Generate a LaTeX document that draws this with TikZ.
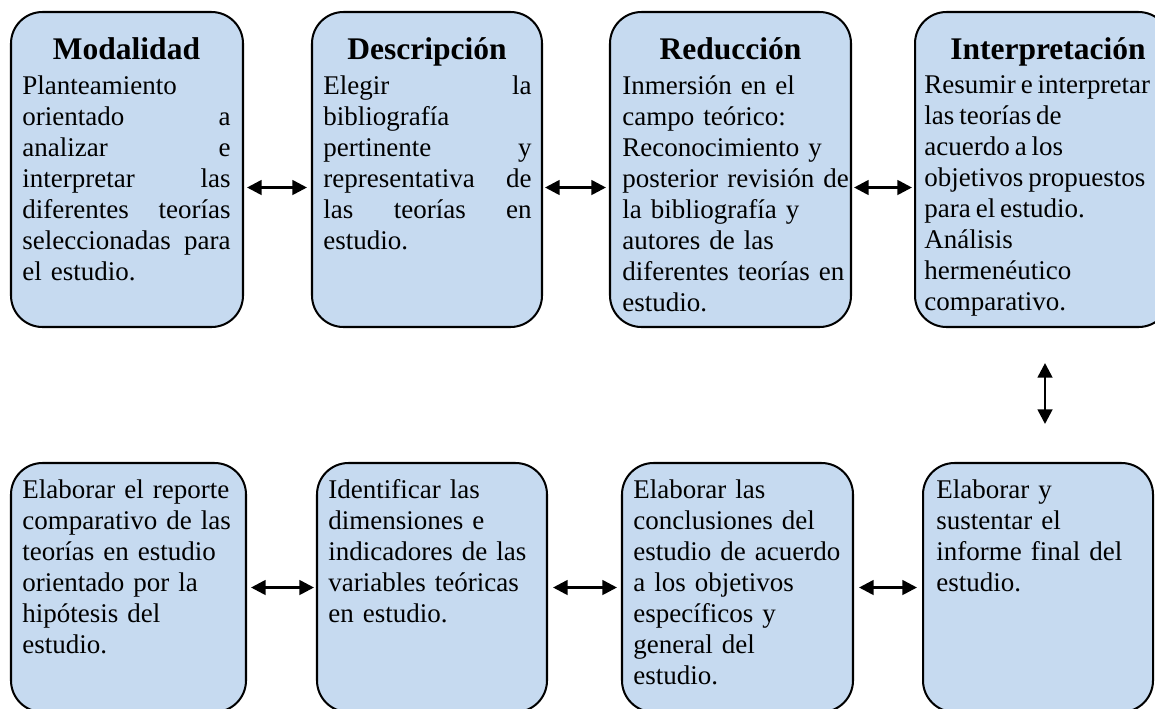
\documentclass[tikz,border=0pt]{standalone}
\usepackage{fontspec}
\setmainfont{Liberation Serif}
\usetikzlibrary{arrows.meta, fit}
\definecolor{boxblue}{RGB}{198,218,240}
\setlength{\parindent}{0pt}

\begin{document}
\begin{tikzpicture}[x=0.4444pt, y=-0.4444pt,
        box/.style={draw, line width=0.9pt, fill=boxblue, rounded corners=14pt, inner sep=0pt},
        head/.style={anchor=base, inner sep=0pt, font=\fontsize{14}{16}\selectfont\bfseries},
        body/.style={anchor=north west, inner sep=0pt, align=left, text width=#1,
            font=\fontsize{12}{13.8}\selectfont},
        body/.default=110pt,
        dbl/.style={{Triangle[length=6.5pt,width=6.5pt]}-{Triangle[length=6.5pt,width=6.5pt]}, line width=1.2pt}]

        \useasboundingbox (0,0) rectangle (1155,708);
        \clip (0,0) rectangle (1155,708);

        % upper row
        \node (mod) [box, fit={(11,12) (243,327)}] {};
        \node (des) [box, fit={(312,12) (542,327)}] {};
        \node (red) [box, fit={(610,12) (851,327)}] {};
        \node (int) [box, fit={(915,12) (1170,327)}] {};

        \node (modh) [head] at (126.5,59) {Modalidad};
        \node (desh) [head] at (427,59) {Descripción};
        \node (redh) [head] at (730.5,59) {Reducción};
        \node (inth) [head] at (1048,59) {Interpretación};

        \node (modt) [body=92.5pt] at (22,75) {Planteamiento\\
            orientado\hfill a\\ analizar\hfill e\\ interpretar\hfill las\\
            diferentes\hfill teorías\\ seleccionadas\hfill para\\ el estudio.};
        \node (dest) [body=92.5pt] at (323,75) {Elegir\hfill la\\ bibliografía\\
            pertinente\hfill y\\ representativa\hfill de\\ las\hfill teorías\hfill en\\ estudio.};
        \node (redt) [body] at (622,75) {Inmersión en el\\ campo teórico:\\
            Reconocimiento y\\ posterior revisión de\\ la bibliografía y\\
            autores de las\\ diferentes teorías en\\ estudio.};
        \node (intt) [body] at (924,75) {\spaceskip=0.18em Resumir e interpretar\\ las teorías de\\
            acuerdo a los\\ objetivos propuestos\\ para el estudio.\\ Análisis\\
            hermenéutico\\ comparativo.};

        % lower row
        \node (rep) [box, fit={(11,463) (246,712)}] {};
        \node (idn) [box, fit={(317,463) (547,712)}] {};
        \node (con) [box, fit={(622,463) (853,712)}] {};
        \node (inf) [box, fit={(923,463) (1153,712)}] {};

        \node (rept) [body] at (22,479) {Elaborar el reporte\\ comparativo de las\\
            teorías en estudio\\ orientado por la\\ hipótesis del\\ estudio.};
        \node (idnt) [body] at (328,479) {Identificar las\\ dimensiones e\\
            indicadores de las\\ variables teóricas\\ en estudio.};
        \node (cont) [body] at (633,479) {Elaborar las\\ conclusiones del\\
            estudio de acuerdo\\ a los objetivos\\ específicos y\\ general del\\ estudio.};
        \node (inft) [body] at (936,479) {Elaborar y\\ sustentar el\\
            informe final del\\ estudio.};

        \draw[dbl] ([shift={(3,18)}]mod.east) -- ([shift={(-4,18)}]des.west);
        \draw[dbl] ([shift={(2,18)}]des.east) -- ([shift={(-3,18)}]red.west);
        \draw[dbl] ([shift={(2,18)}]red.east) -- ([shift={(-2,18)}]int.west);
        \draw[dbl] ([shift={(2.5,35)}]int.south) -- ([shift={(7,-38)}]inf.north);
        \draw[dbl] ([shift={(4,0)}]rep.east) -- ([shift={(-2,0)}]idn.west);
        \draw[dbl] ([shift={(5,0)}]idn.east) -- ([shift={(-4,0)}]con.west);
        \draw[dbl] ([shift={(5,0)}]con.east) -- ([shift={(-5,0)}]inf.west);
\end{tikzpicture}
\end{document}
